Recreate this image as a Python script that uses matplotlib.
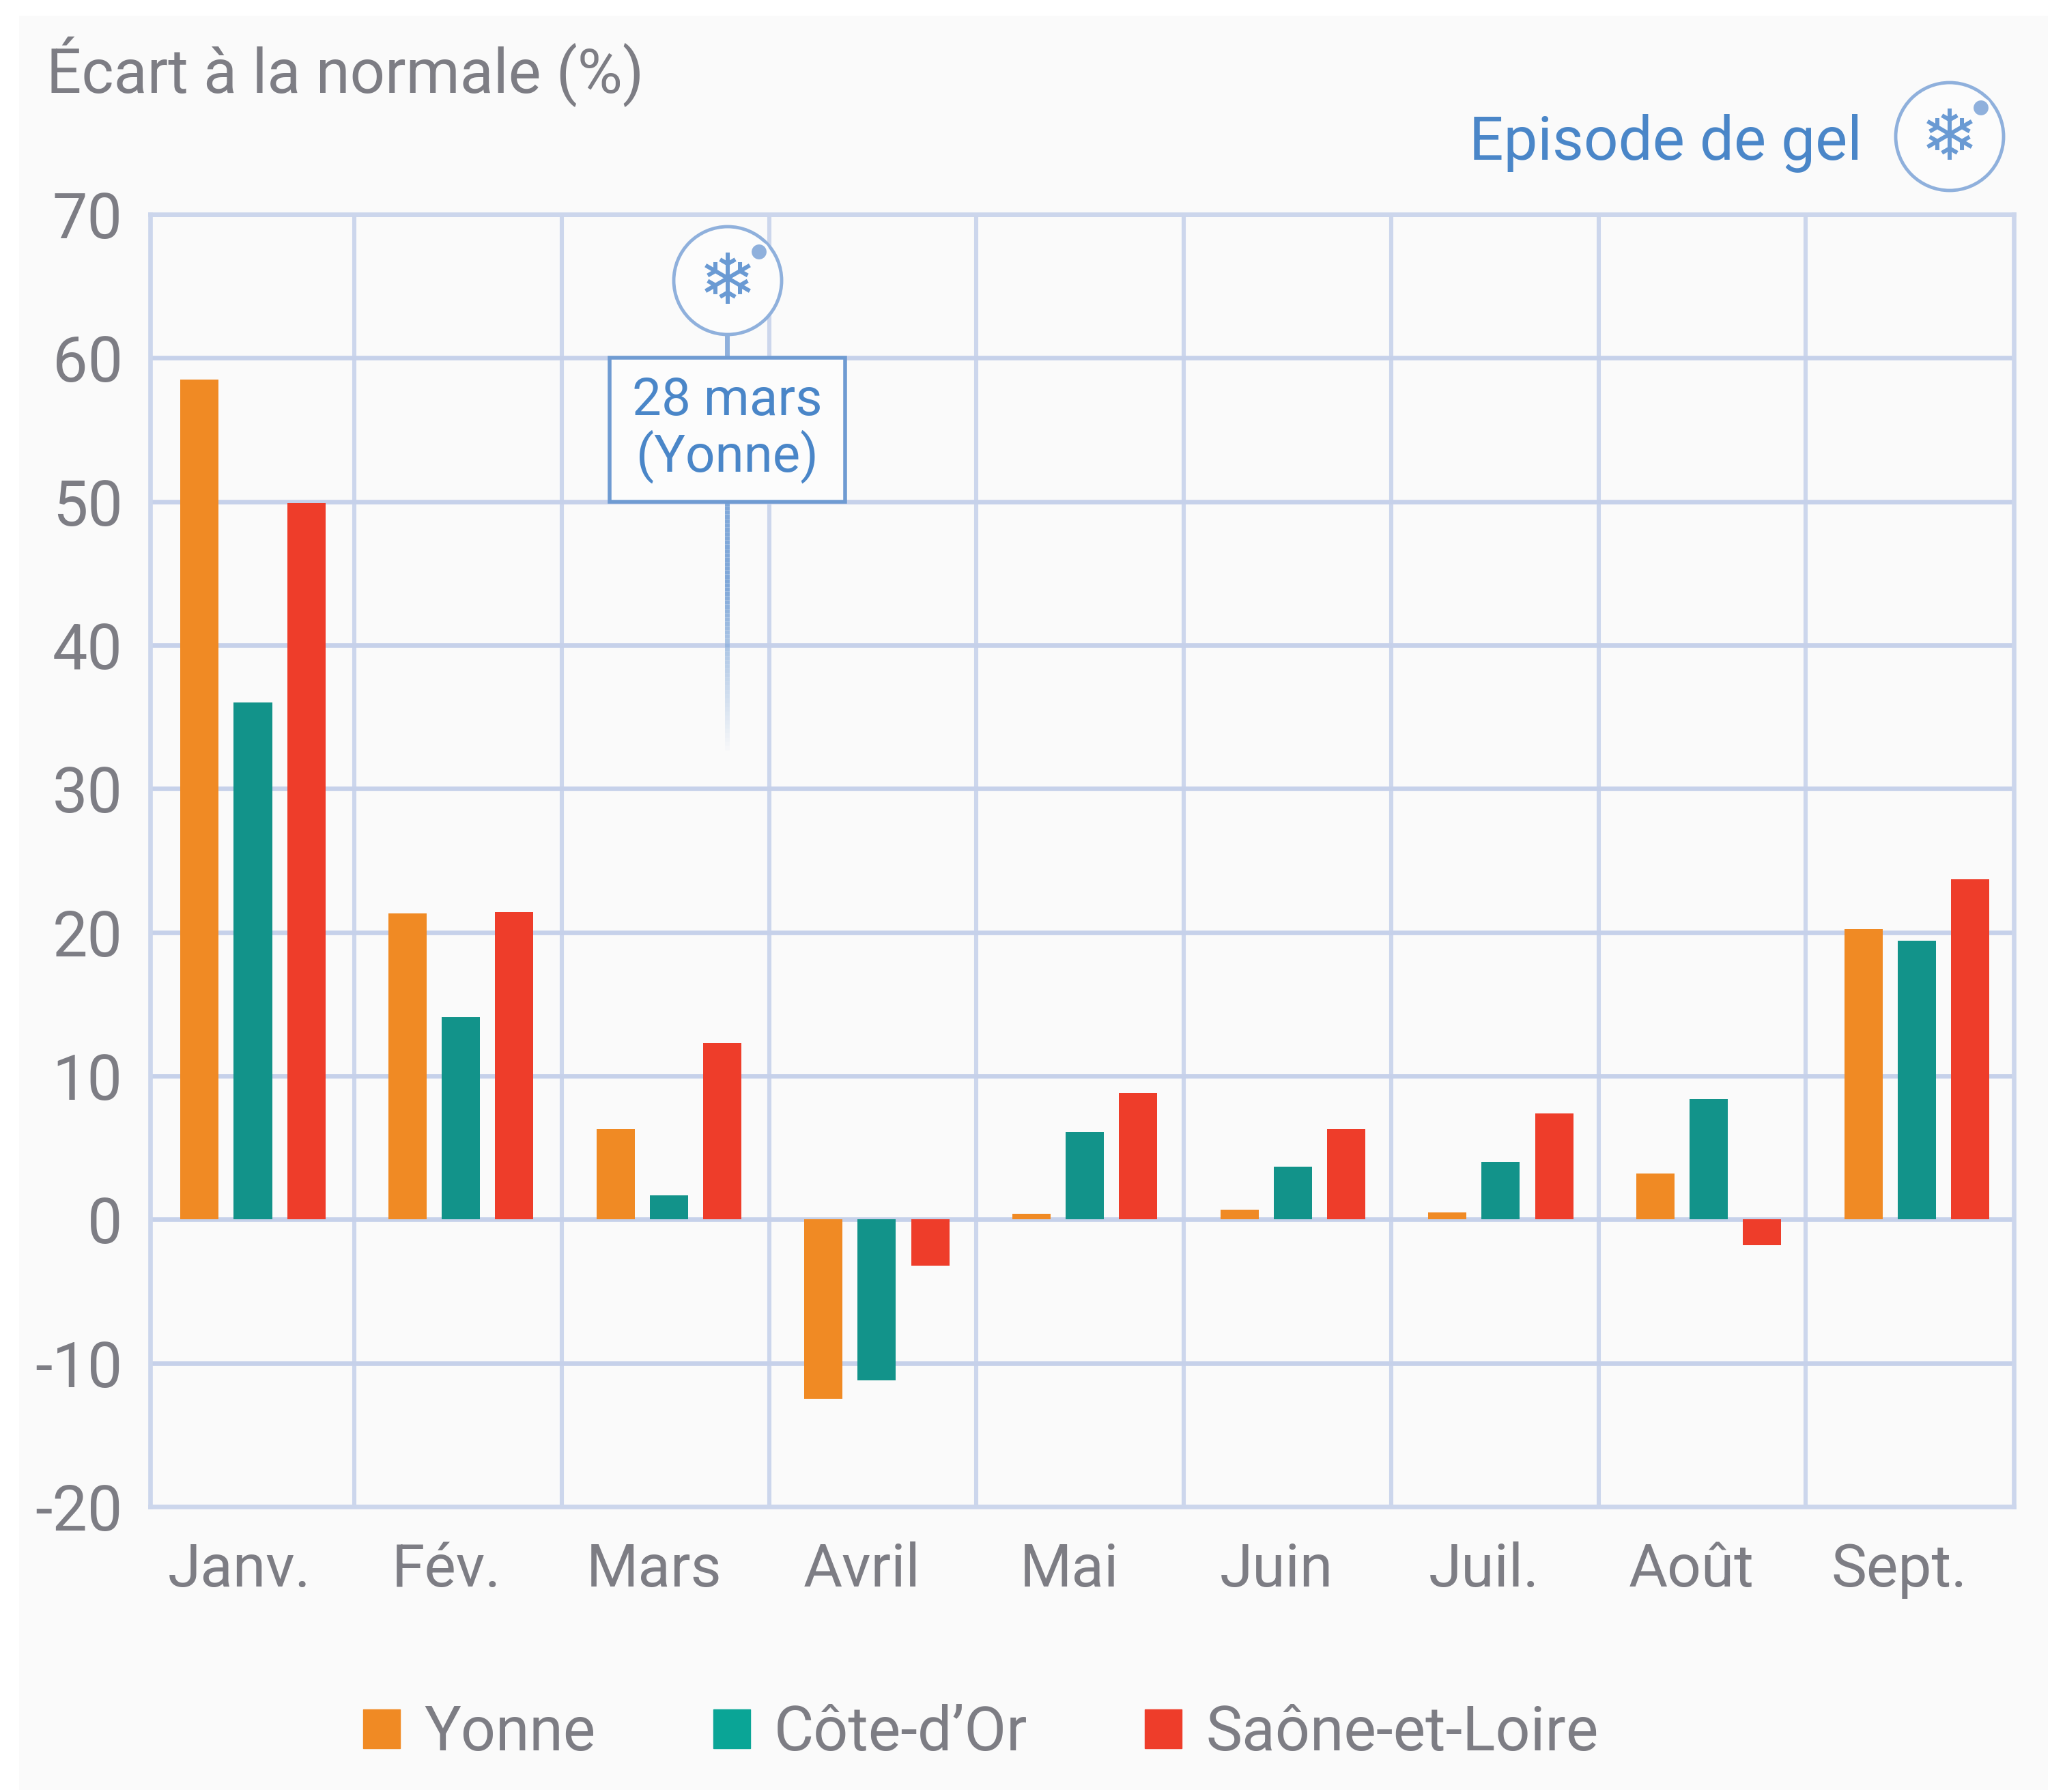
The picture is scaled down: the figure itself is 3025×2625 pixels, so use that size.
import numpy as np
import matplotlib
matplotlib.use('Agg')
import matplotlib.pyplot as plt
from matplotlib.collections import LineCollection
from matplotlib.patches import Circle, Patch, Rectangle
from matplotlib.transforms import ScaledTranslation

plt.rcParams['font.family'] = ['Roboto', 'DejaVu Sans']

months = ['Janv.', 'Fév.', 'Mars', 'Avril', 'Mai', 'Juin', 'Juil.', 'Août', 'Sept.']
yonne = [58.5, 21.3, 6.3, -12.5, 0.4, 0.7, 0.5, 3.2, 20.2]
cote_dor = [36.0, 14.1, 1.7, -11.2, 6.1, 3.7, 4.0, 8.4, 19.4]
saone = [49.9, 21.4, 12.3, -3.2, 8.8, 6.3, 7.4, -1.8, 23.7]
yticks = [-20, -10, 0, 10, 20, 30, 40, 50, 60, 70]

W, H = 3025, 2625
GREY = '#7d7d84'
BLUE = '#4a86c8'
GRID = '#c6d1ea'
ORANGE = '#f08a24'
TEAL = '#12938a'
RED = '#ee3d2a'


def px(x, y):
    # pixels (origin top left) to figure fraction
    return x / W, 1 - y / H


fig = plt.figure(figsize=(W / 100, H / 100), dpi=100, facecolor='white')
fig.add_artist(Rectangle(px(28, 2622), (3000 - 28) / W, (2622 - 23) / H,
                         transform=fig.transFigure, fc='#fafafa', ec='none', zorder=-5))

ax = fig.add_axes([220 / W, 1 - 2207 / H, (2950 - 220) / W, (2207 - 314) / H])
ax.patch.set_alpha(0)

x = np.arange(len(months))
w = 0.184
ax.bar(x - 0.2565, yonne, w, color=ORANGE, zorder=3)
ax.bar(x, cote_dor, w, color=TEAL, zorder=3)
ax.bar(x + 0.2565, saone, w, color=RED, zorder=3)

ax.set_xlim(-0.494, 8.467)
ax.set_ylim(-20, 70)
ax.set_yticks(yticks)
ax.set_yticklabels([str(v) for v in yticks])
# month labels sit on a slightly tighter pitch than the bars
ax.set_xticks(x * 0.9975)
ax.set_xticklabels(months)
ax.set_xticks(np.linspace(0.488, 7.467, 8), minor=True)
ax.tick_params(which='both', length=0)
ax.tick_params(axis='y', labelsize=66, labelcolor=GREY, pad=29)
ax.tick_params(axis='x', labelsize=63, labelcolor=GREY, pad=37)
for lab in ax.get_xticklabels():
    lab.set_transform(lab.get_transform() + ScaledTranslation(-20 / 100, 0, fig.dpi_scale_trans))

ax.grid(axis='y', which='major', color=GRID, lw=4.8, zorder=1)
ax.grid(axis='x', which='minor', color='#ccd6ec', lw=4.4, zorder=1)
for s in ax.spines.values():
    s.set_color('#ccd6ec')
    s.set_linewidth(4.8)

fig.text(*px(68, 105), 'Écart à la normale (%)', fontsize=65, color=GREY, va='center', ha='left')

# frost event marker on the March band
ev_x = 2.281
ys = np.linspace(50, 32.4, 60)
segs = [[(ev_x, a), (ev_x, b)] for a, b in zip(ys[:-1], ys[1:])]
fade = np.clip(np.linspace(1.5, 0, 59), 0, 1)
ax.add_collection(LineCollection(segs, colors=[(0.5, 0.66, 0.85, a) for a in fade],
                                 linewidths=5, zorder=2))
ax.plot([ev_x, ev_x], [60, 62], color='#8fb0dc', lw=5, zorder=2)
ax.text(ev_x, 55, '28 mars\n(Yonne)', fontsize=55, color=BLUE, ha='center', va='center',
        linespacing=1.08, zorder=5)
box_w = 179 * 1.929 / (2730 / 8.961)
ax.add_patch(Rectangle((ev_x - box_w / 2, 50), box_w, 10, fc='#fcfcfc', ec='#6f9bd2', lw=4, zorder=4))


def frost_icon(cx, cy):
    fx, fy = px(cx, cy)
    r = 79
    fig.add_artist(Circle((cx, H - cy), r, transform=None, fc='#fcfcfc', ec='#8fb0dc', lw=3.5, zorder=6))
    fig.add_artist(Circle((cx + 46, H - cy + 42), 13, transform=None, fc='#8fb0dc', ec='#fcfcfc', lw=3, zorder=7))
    fig.text(fx, fy - 0.002, '\u2744', family='DejaVu Sans', fontsize=74, color='#6a9ad3',
             ha='center', va='center', zorder=8)


frost_icon(1066, 411)
frost_icon(2856, 200)
fig.text(*px(2728, 210), 'Episode de gel', fontsize=64, color=BLUE, ha='right', va='center')

handles = [Patch(color=ORANGE), Patch(color='#0aa596'), Patch(color=RED)]
fig.legend(handles, ['Yonne', 'Côte-d’Or', 'Saône-et-Loire'], loc='center',
           bbox_to_anchor=px(1437, 2539), ncol=3, frameon=False, fontsize=64.5,
           labelcolor=GREY, handlelength=0.605, handleheight=0.605, handletextpad=0.39,
           columnspacing=1.92, borderpad=0, borderaxespad=0)

fig.savefig('out.png', dpi=100)
